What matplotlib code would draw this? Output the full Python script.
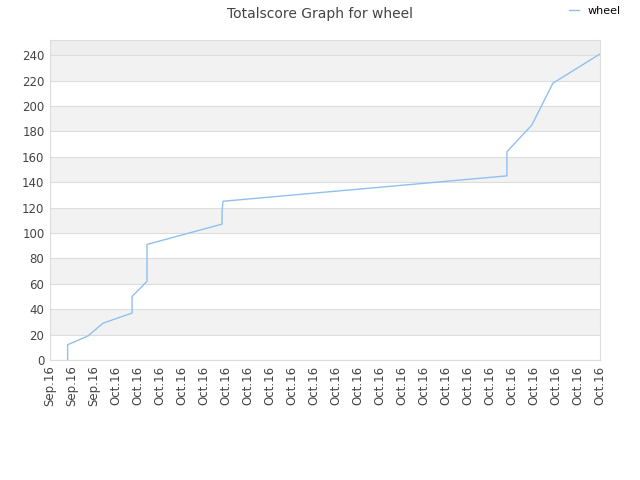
import matplotlib
matplotlib.use("Agg")
import matplotlib.pyplot as plt

# positions in tick units (one tick per label)
xpos = [0.80, 0.80, 1.73, 2.41, 3.73, 3.73, 4.41, 4.41, 7.82, 7.82, 7.86, 20.77, 20.77, 21.90, 22.86, 25.0]
score = [0, 12, 19, 29, 37, 50, 62, 91, 107, 116, 125, 145, 164, 185, 218, 241]
ticklabels = ["Sep.16"] * 3 + ["Oct.16"] * 23
yticks = list(range(0, 241, 20))

fig = plt.figure(figsize=(6.4, 4.8), dpi=100)
ax = fig.add_axes([50 / 640, 120 / 480, 550 / 640, 320 / 480])

ymax = 252
# alternating bands
for y0 in range(20, 240, 40):
    ax.axhspan(y0, y0 + 20, color="#f2f2f2", zorder=0, lw=0)
ax.axhspan(240, ymax, color="#eeeeee", zorder=0, lw=0)
for y in yticks:
    ax.axhline(y, color="#dddddd", lw=0.8, zorder=1)

ax.plot(xpos, score, color="#90c0f0", lw=1.0, label="wheel", zorder=3)

ax.set_xlim(0, 25)
ax.set_ylim(0, ymax)
ax.set_xticks(range(len(ticklabels)))
ax.set_xticklabels(ticklabels, rotation=90, fontsize=8.5, color="#444444")
ax.set_yticks(yticks)
ax.set_yticklabels([str(v) for v in yticks], fontsize=8.5, color="#444444")
ax.tick_params(length=0, pad=4)
for s in ax.spines.values():
    s.set_color("#dddddd")
    s.set_linewidth(0.8)

fig.suptitle("Totalscore Graph for wheel", x=0.5, y=0.985, fontsize=10, color="#444444")
fig.legend(loc="upper right", bbox_to_anchor=(0.985, 1.008), frameon=False,
           fontsize=8, handlelength=0.9, handletextpad=0.7)
fig.savefig("out.png", dpi=100)
